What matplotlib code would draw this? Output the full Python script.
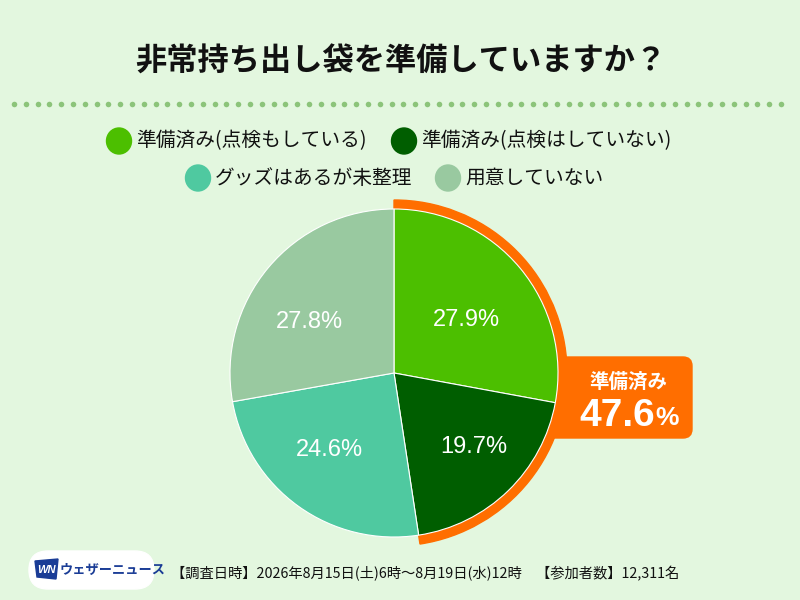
import matplotlib
matplotlib.use('Agg')
import matplotlib.pyplot as plt
from matplotlib.patches import Wedge, FancyBboxPatch, Ellipse, Polygon
import numpy as np

plt.rcParams['font.family'] = ['Noto Sans CJK JP', 'DejaVu Sans']

# データ
title = '非常持ち出し袋を準備していますか？'
labels = ['準備済み(点検もしている)', '準備済み(点検はしていない)', 'グッズはあるが未整理', '用意していない']
values = [27.9, 19.7, 24.6, 27.8]
colors = ['#4cbf00', '#005e00', '#4fc9a0', '#99c9a0']
ready_label = '準備済み'
ready_value = 47.6
footer = '【調査日時】2026年8月15日(土)6時～8月19日(水)12時　【参加者数】12,311名'

bg = '#e3f7df'
orange = '#ff6e00'

W, H = 800, 600
fig = plt.figure(figsize=(8, 6), dpi=100, facecolor=bg)
ax = fig.add_axes([0, 0, 1, 1])
ax.set_xlim(0, W)
ax.set_ylim(0, H)
ax.set_aspect('equal')
ax.axis('off')

def Y(y):
    return H - y

# タイトル
ax.text(401, Y(62), title, ha='center', va='center', fontsize=22.5, fontweight='bold', color='#111111')

# 点線
xs = np.arange(14, 790, 11.8)
ax.scatter(xs, np.full(len(xs), Y(104)), s=16, color='#8cc47a', linewidths=0, zorder=2)

# 凡例
leg_pos = [(119, 141), (404, 141), (198, 178), (448, 178)]
for (lx, ly), lab, c in zip(leg_pos, labels, colors):
    ax.add_patch(Ellipse((lx, Y(ly)), 25, 26, color=c, zorder=3))
    ax.text(lx + 17, Y(ly), lab, ha='left', va='center', fontsize=14.2, color='#111111')

# 円グラフ
cx, cy, r = 394, Y(373), 164
ax.add_patch(Wedge((cx, cy), 173, 90 - ready_value * 3.6, 90, color=orange, zorder=1))

# 吹き出し
box = FancyBboxPatch((545, Y(438)), 692 - 545, 438 - 357,
                     boxstyle='round,pad=0,rounding_size=9', color=orange, zorder=1)
ax.add_patch(box)
ax.text(628, Y(382), ready_label, ha='center', va='center', fontsize=14, fontweight='bold', color='white', zorder=5)
ax.text(655, Y(416), f'{ready_value:.1f}', ha='right', va='center', fontsize=28, fontweight='bold',
        color='white', family=['Liberation Sans', 'DejaVu Sans'], zorder=5)
ax.text(655, Y(418), '%', ha='left', va='center', fontsize=19, fontweight='bold',
        color='white', family=['Liberation Sans', 'DejaVu Sans'], zorder=5)

# ラベル位置の微調整(半径比, 角度)
label_dist = [0.545, 0.664, 0.614, 0.604]
label_turn = [-3.4, 3.1, -4.6, 9.0]
wedges, texts, autotexts = ax.pie(values, colors=colors, startangle=90, counterclock=False,
                                  center=(cx, cy), radius=r, autopct='%.1f%%', pctdistance=0.6,
                                  wedgeprops=dict(edgecolor='white', linewidth=0.8), frame=True)
for w, t, d, k in zip(wedges, autotexts, label_dist, label_turn):
    a = np.deg2rad((w.theta1 + w.theta2) / 2 + k)
    t.set_position((cx + d * r * np.cos(a), cy + d * r * np.sin(a)))
    t.set_color('white')
    t.set_fontsize(17)
    t.set_family(['Liberation Sans', 'DejaVu Sans'])
ax.set_xlim(0, W)
ax.set_ylim(0, H)
ax.axis('off')

# ロゴ
logo = FancyBboxPatch((29, Y(589)), 125, 38, boxstyle='round,pad=0,rounding_size=19',
                      color='white', zorder=3)
ax.add_patch(logo)
ax.add_patch(Polygon([(35, Y(561)), (58, Y(559)), (56, Y(579)), (37, Y(577))],
                     closed=True, color='#1a3c96', zorder=4))
ax.text(46, Y(570), 'WN', ha='center', va='center', fontsize=8, fontweight='bold', style='italic',
        color='white', family=['Liberation Sans', 'DejaVu Sans'], zorder=5)
ax.text(60, Y(570), 'ウェザーニュース', ha='left', va='center', fontsize=9.5, fontweight='bold',
        color='#1a3c96', zorder=5)

# 調査情報
ax.text(171, Y(574), footer, ha='left', va='center', fontsize=10.3, color='#111111')

fig.savefig('out.png', dpi=100, facecolor=bg)
